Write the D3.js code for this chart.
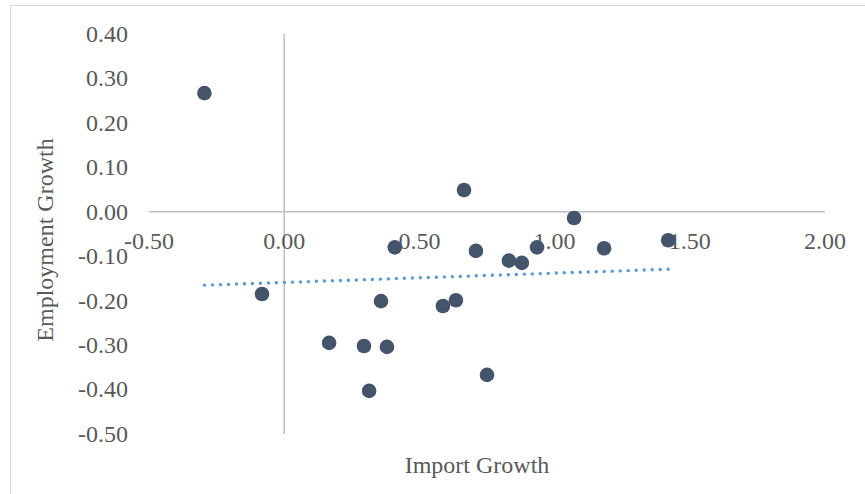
<!DOCTYPE html>
<html>
<head>
<meta charset="utf-8">
<script src="https://cdn.jsdelivr.net/npm/d3@7"></script>
<style>
  html, body { margin: 0; padding: 0; background: #ffffff; }
  svg { display: block; }
</style>
</head>
<body>
<svg id="chart" width="865" height="494"></svg>
<script>
// ---- data ----
const importGrowth = [-0.295, -0.082, 0.166, 0.295, 0.314, 0.358, 0.380, 0.409, 0.587, 0.635, 0.665, 0.709, 0.750, 0.831, 0.879, 0.935, 1.072, 1.183, 1.420];
const employmentGrowth = [0.267, -0.185, -0.295, -0.302, -0.403, -0.201, -0.304, -0.080, -0.212, -0.199, 0.049, -0.088, -0.367, -0.110, -0.115, -0.080, -0.014, -0.082, -0.064];
const xTicks = [-0.5, 0, 0.5, 1.0, 1.5, 2.0];
const yTicks = [0.4, 0.3, 0.2, 0.1, 0.0, -0.1, -0.2, -0.3, -0.4, -0.5];
const xTitle = "Import Growth";
const yTitle = "Employment Growth";

// ---- layout ----
const svg = d3.select("#chart");
const W = 865, H = 494;
const x = d3.scaleLinear().domain([-0.5, 2.0]).range([149, 825]);
const y = d3.scaleLinear().domain([-0.5, 0.4]).range([434, 34]);
const font = "'Liberation Serif', 'Times New Roman', serif";
const fmt = d => d3.format(".2f")(d).replace("\u2212", "-");

// chart border (only top and left edges are in frame)
svg.append("line")
  .attr("x1", 10.5).attr("x2", W).attr("y1", 5.5).attr("y2", 5.5)
  .attr("stroke", "#d9d9d9").attr("stroke-width", 1);
svg.append("line")
  .attr("x1", 10.5).attr("x2", 10.5).attr("y1", 5.5).attr("y2", H)
  .attr("stroke", "#d9d9d9").attr("stroke-width", 1);

// axis lines (crossing at zero)
svg.append("line")
  .attr("x1", x(-0.5)).attr("x2", x(2.0))
  .attr("y1", y(0)).attr("y2", y(0))
  .attr("stroke", "#bfbfbf").attr("stroke-width", 1.5);
svg.append("line")
  .attr("x1", x(0)).attr("x2", x(0))
  .attr("y1", y(0.4)).attr("y2", y(-0.5))
  .attr("stroke", "#bfbfbf").attr("stroke-width", 1.5);

// y tick labels
svg.append("g").selectAll("text").data(yTicks).join("text")
  .attr("x", 128).attr("y", d => y(d)).attr("dy", "0.33em")
  .attr("text-anchor", "end")
  .attr("font-family", font).attr("font-size", 24).attr("fill", "#595959")
  .text(d => fmt(d));

// x tick labels (next to the zero line)
svg.append("g").selectAll("text").data(xTicks).join("text")
  .attr("x", d => x(d)).attr("y", y(0) + 37)
  .attr("text-anchor", "middle")
  .attr("font-family", font).attr("font-size", 24).attr("fill", "#595959")
  .text(d => fmt(d));

// linear trendline (least squares from the data)
const n = importGrowth.length;
const mx = d3.mean(importGrowth), my = d3.mean(employmentGrowth);
let sxy = 0, sxx = 0;
for (let i = 0; i < n; i++) {
  sxy += (importGrowth[i] - mx) * (employmentGrowth[i] - my);
  sxx += (importGrowth[i] - mx) ** 2;
}
const slope = sxy / sxx, intercept = my - slope * mx;
const [x0, x1] = d3.extent(importGrowth);
svg.append("path")
  .datum([x0, x1])
  .attr("d", d3.line().x(d => x(d)).y(d => y(intercept + slope * d)))
  .attr("fill", "none").attr("stroke", "#5b9bd5").attr("stroke-width", 3.4)
  .attr("stroke-linecap", "round").attr("stroke-dasharray", "0.1 7.9");

// points
svg.append("g").selectAll("circle").data(importGrowth.map((d, i) => [d, employmentGrowth[i]])).join("circle")
  .attr("cx", d => x(d[0])).attr("cy", d => y(d[1])).attr("r", 7.3)
  .attr("fill", "#44546a");

// axis titles
svg.append("text")
  .attr("x", 477).attr("y", 473)
  .attr("text-anchor", "middle")
  .attr("font-family", font).attr("font-size", 24).attr("fill", "#595959")
  .text(xTitle);
svg.append("text")
  .attr("transform", "translate(53,240) rotate(-90)")
  .attr("text-anchor", "middle")
  .attr("font-family", font).attr("font-size", 24).attr("fill", "#595959")
  .text(yTitle);
</script>
</body>
</html>
